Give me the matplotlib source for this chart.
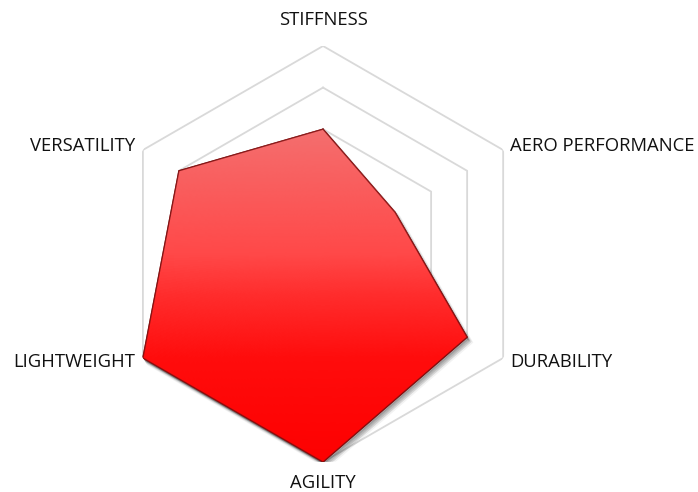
import numpy as np
import matplotlib
matplotlib.use("Agg")
import matplotlib.pyplot as plt
import matplotlib.transforms as mtransforms
from matplotlib.colors import LinearSegmentedColormap

categories = ["STIFFNESS", "AERO PERFORMANCE", "DURABILITY", "AGILITY", "LIGHTWEIGHT", "VERSATILITY"]
values = [3, 2, 4, 5, 5, 4]
ring_levels = [1, 2, 3, 4, 5]
r_max = 5

plt.rcParams['font.family'] = ['Open Sans', 'DejaVu Sans']

fig = plt.figure(figsize=(6.98, 4.92), dpi=100)
ax = fig.add_axes([0.1648, 0.061, 0.596, 0.8455], projection='polar')
ax.set_theta_zero_location('N')
ax.set_theta_direction(-1)
ax.set_ylim(0, r_max)
ax.grid(False)
ax.spines['polar'].set_visible(False)
ax.set_xticks([])
ax.set_yticks([])
ax.patch.set_alpha(0)

n = len(categories)
angles = np.linspace(0, 2 * np.pi, n, endpoint=False)
ang_c = np.concatenate([angles, angles[:1]])
val_c = np.concatenate([values, values[:1]])

# hexagonal grid
for lv in ring_levels:
    ax.plot(ang_c, [lv] * (n + 1), color='#d9d9d9', lw=1.3, zorder=1)

# shadow
for i, (dx, dy, a) in enumerate([(4, -5, 0.05), (3, -4, 0.07), (2, -3, 0.1), (1, -2, 0.14)]):
    tr = mtransforms.offset_copy(ax.transData, fig=fig, x=dx, y=dy, units='dots')
    ax.fill(ang_c, val_c, color='black', alpha=a, lw=2.5 - i * 0.5,
            edgecolor='black', transform=tr, zorder=2)

# polygon with gradient
poly = ax.fill(ang_c, val_c, facecolor='#ff4848', edgecolor='#8a1010', lw=1.0, zorder=3)[0]
th = np.linspace(0, 2 * np.pi, 361)
rr = np.linspace(0, r_max, 120)
TH, RR = np.meshgrid(th, rr)
up = RR * np.cos(TH)
cmap = LinearSegmentedColormap.from_list(
    'redgrad',
    [(0.0, '#fd0000'), (0.3125, '#ff0c0c'), (0.5, '#ff2c2c'), (0.625, '#ff4848'), (1.0, '#f46e6e')])
mesh = ax.pcolormesh(TH, RR, up, cmap=cmap, vmin=-5, vmax=3, shading='auto',
                     zorder=3, antialiased=False, linewidth=0)
mesh.set_clip_path(poly)
ax.plot(ang_c, val_c, color='#7a1010', lw=0.9, alpha=0.8, zorder=4)

# labels
label_r = [5.62, 5.2, 5.2, 5.5, 5.2, 5.2]
has = ['center', 'left', 'left', 'center', 'right', 'right']
for a, lab, r, ha in zip(angles, categories, label_r, has):
    ax.text(a, r, lab, ha=ha, va='center', fontsize=13.3, color='#111111', zorder=5)

fig.savefig('out.png', dpi=100)
